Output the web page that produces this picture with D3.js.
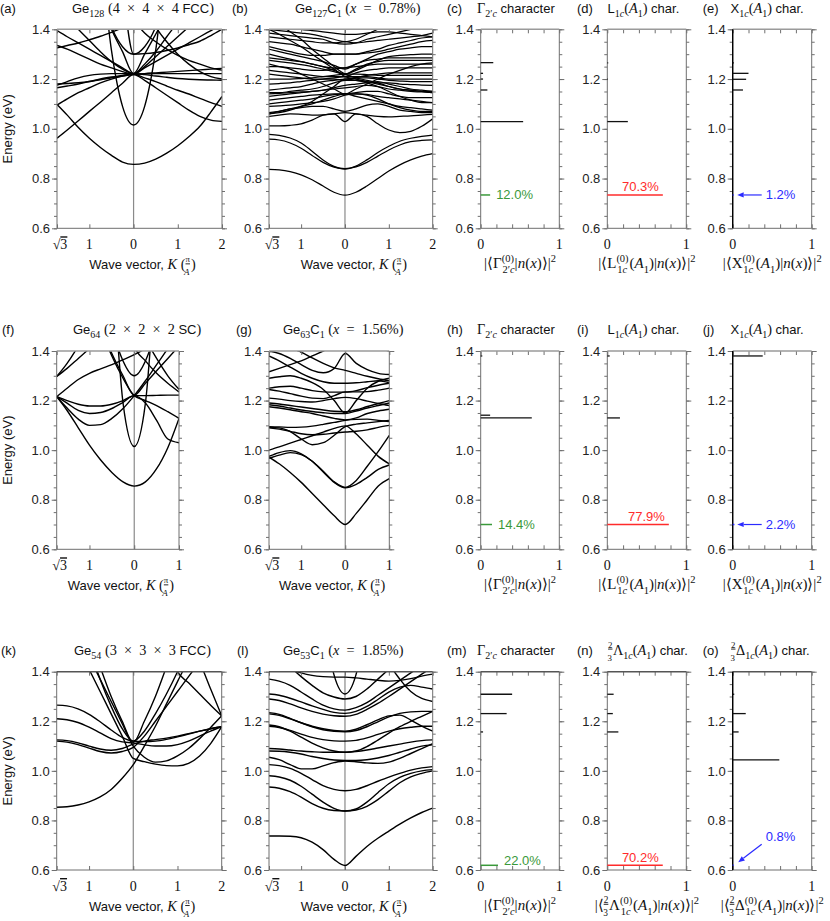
<!DOCTYPE html>
<html><head><meta charset="utf-8">
<script src="https://cdn.jsdelivr.net/npm/d3@7"></script>
<style>body{margin:0;background:#fff}</style></head>
<body><svg id="c" width="830" height="921"></svg>
<script>
// ---------------- DATA ----------------
const S3 = Math.sqrt(3);
const K_FCC = [-S3,-1.5,-1.25,-1,-0.75,-0.5,-0.25,0,0.25,0.5,0.75,1,1.25,1.5,1.75,2];
const K_SC  = [-S3,-1.5,-1.25,-1,-0.75,-0.5,-0.25,0,0.25,0.5,0.75,1];
const KT_FCC = [-S3,-1,0,1,2];
const KT_SC  = [-S3,-1,0,1];
const KL_FCC = ['√3','1','0','1','2'];
const KL_SC  = ['√3','1','0','1'];
const E_MAJOR = [0.6,0.8,1.0,1.2,1.4];
const E_MINOR = d3.range(0,17).map(i => +(0.6 + i*0.05).toFixed(2));
const C_TICKS = [0,0.2,0.4,0.6,0.8,1];
const C_LABELS = [[0,'0'],[1,'1']];

// (a) Ge128 (4x4x4 FCC)
const BANDS_A = [
 [1.098,1.055,1.005,0.962,0.925,0.893,0.866,0.857,0.862,0.878,0.902,0.932,0.968,1.01,1.068,1.13],
 [0.962,0.995,1.032,1.07,1.107,1.145,1.183,1.218,1.195,1.165,1.135,1.105,1.075,1.05,1.035,1.03],
 [1.9,1.9,1.9,1.9,1.69,1.315,1.09,1.015,1.09,1.315,1.69,1.9,1.9,1.9,1.9,1.9],
 [1.095,1.12,1.145,1.165,1.185,1.2,1.212,1.22,1.205,1.19,1.172,1.155,1.14,1.122,1.105,1.09],
 [1.18,1.182,1.185,1.19,1.197,1.205,1.212,1.218,1.222,1.225,1.228,1.231,1.234,1.237,1.24,1.243],
 [1.165,1.172,1.18,1.19,1.2,1.208,1.215,1.22,1.221,1.222,1.222,1.222,1.222,1.222,1.222,1.222],
 [1.175,1.19,1.205,1.215,1.22,1.222,1.222,1.222,1.218,1.212,1.207,1.202,1.199,1.197,1.196,1.195],
 [1.335,1.32,1.30,1.28,1.26,1.245,1.23,1.22,1.245,1.27,1.295,1.32,1.345,1.37,1.395,1.42],
 [1.325,1.335,1.345,1.358,1.372,1.388,1.405,1.42,1.5,1.6,1.7,1.8,1.9,1.9,1.9,1.9],
 [1.5,1.45,1.40,1.355,1.31,1.27,1.24,1.222,1.26,1.31,1.37,1.43,1.5,1.6,1.7,1.8],
 [1.9,1.9,1.9,1.75,1.55,1.41,1.33,1.30,1.33,1.41,1.55,1.75,1.9,1.9,1.9,1.9],
 [1.9,1.9,1.9,1.9,1.8,1.65,1.52,1.44,1.385,1.35,1.32,1.295,1.275,1.26,1.245,1.236],
 [1.9,1.9,1.9,1.9,1.9,1.8,1.7,1.6,1.5,1.41,1.35,1.3,1.26,1.23,1.21,1.2],
 [1.9,1.9,1.9,1.9,1.9,1.8,1.55,1.30,1.302,1.307,1.315,1.325,1.338,1.352,1.375,1.40],
 [1.395,1.37,1.345,1.32,1.295,1.27,1.245,1.222,1.25,1.29,1.33,1.37,1.41,1.45,1.5,1.55],
 [1.9,1.9,1.8,1.65,1.52,1.40,1.31,1.222,1.3,1.38,1.46,1.55,1.65,1.75,1.85,1.9]
];
// (b) Ge127C1
const BANDS_B = [
 [0.837,0.835,0.828,0.815,0.795,0.77,0.745,0.733,0.745,0.77,0.80,0.83,0.855,0.875,0.89,0.90],
 [0.958,0.955,0.943,0.922,0.893,0.865,0.846,0.84,0.847,0.865,0.89,0.915,0.935,0.948,0.953,0.955],
 [0.978,0.974,0.963,0.943,0.91,0.875,0.849,0.838,0.85,0.875,0.905,0.93,0.95,0.962,0.97,0.975],
 [1.012,1.012,1.014,1.02,1.035,1.055,1.06,1.029,1.06,1.05,1.02,0.995,0.985,0.99,1.01,1.04],
 [1.05,1.055,1.06,1.058,1.055,1.056,1.06,1.065,1.06,1.055,1.05,1.048,1.05,1.052,1.055,1.058],
 [1.065,1.07,1.08,1.085,1.09,1.09,1.08,1.07,1.08,1.095,1.1,1.09,1.075,1.07,1.065,1.065],
 [1.09,1.092,1.095,1.10,1.105,1.11,1.12,1.135,1.14,1.135,1.12,1.10,1.085,1.075,1.07,1.07],
 [1.10,1.105,1.11,1.115,1.12,1.13,1.137,1.14,1.14,1.138,1.13,1.125,1.12,1.115,1.11,1.105],
 [1.115,1.12,1.125,1.13,1.135,1.138,1.14,1.14,1.145,1.15,1.15,1.14,1.13,1.125,1.125,1.125],
 [1.13,1.135,1.14,1.145,1.15,1.155,1.16,1.165,1.17,1.175,1.17,1.16,1.155,1.15,1.148,1.145],
 [1.14,1.142,1.145,1.148,1.15,1.155,1.165,1.175,1.18,1.185,1.19,1.18,1.17,1.16,1.155,1.15],
 [1.145,1.145,1.15,1.155,1.16,1.17,1.185,1.195,1.195,1.19,1.185,1.185,1.18,1.178,1.176,1.175],
 [1.155,1.16,1.165,1.17,1.18,1.19,1.195,1.2,1.205,1.205,1.2,1.195,1.192,1.19,1.19,1.19],
 [1.18,1.182,1.185,1.19,1.195,1.2,1.205,1.21,1.21,1.21,1.205,1.2,1.2,1.2,1.2,1.2],
 [1.2,1.2,1.2,1.202,1.205,1.21,1.215,1.22,1.22,1.218,1.215,1.215,1.215,1.215,1.215,1.215],
 [1.22,1.215,1.21,1.205,1.2,1.2,1.2,1.195,1.205,1.215,1.22,1.225,1.225,1.225,1.225,1.225],
 [1.235,1.23,1.225,1.22,1.215,1.21,1.21,1.21,1.225,1.235,1.24,1.245,1.245,1.245,1.245,1.245],
 [1.25,1.25,1.245,1.24,1.235,1.235,1.24,1.245,1.25,1.255,1.26,1.26,1.26,1.26,1.26,1.26],
 [1.275,1.27,1.265,1.258,1.25,1.24,1.23,1.22,1.24,1.26,1.27,1.275,1.275,1.275,1.275,1.275],
 [1.285,1.28,1.275,1.27,1.26,1.25,1.245,1.245,1.26,1.275,1.28,1.285,1.285,1.285,1.285,1.285],
 [1.30,1.29,1.28,1.27,1.26,1.25,1.235,1.22,1.235,1.255,1.275,1.29,1.295,1.298,1.30,1.30],
 [1.32,1.31,1.3,1.29,1.28,1.27,1.255,1.24,1.26,1.28,1.3,1.31,1.32,1.325,1.33,1.33],
 [1.33,1.32,1.31,1.30,1.295,1.295,1.30,1.30,1.30,1.305,1.31,1.32,1.33,1.34,1.35,1.355],
 [1.35,1.345,1.34,1.33,1.32,1.31,1.30,1.30,1.30,1.31,1.32,1.335,1.345,1.355,1.365,1.37],
 [1.37,1.365,1.36,1.355,1.35,1.345,1.345,1.35,1.345,1.35,1.355,1.36,1.365,1.37,1.375,1.385],
 [1.385,1.38,1.375,1.37,1.365,1.36,1.345,1.34,1.345,1.36,1.37,1.38,1.39,1.40,1.41,1.42],
 [1.40,1.395,1.39,1.385,1.38,1.37,1.36,1.35,1.36,1.38,1.40,1.42,1.44,1.45,1.45,1.45],
 [1.40,1.38,1.355,1.33,1.30,1.27,1.24,1.21,1.2,1.19,1.18,1.17,1.16,1.155,1.15,1.15],
 [1.45,1.42,1.39,1.36,1.32,1.285,1.25,1.22,1.205,1.195,1.185,1.17,1.16,1.155,1.15,1.145],
 [1.06,1.07,1.08,1.09,1.10,1.115,1.13,1.14,1.13,1.12,1.11,1.1,1.09,1.085,1.08,1.075],
 [1.06,1.065,1.075,1.09,1.11,1.14,1.17,1.2,1.195,1.185,1.17,1.15,1.13,1.115,1.105,1.105],
 [1.26,1.25,1.24,1.22,1.2,1.18,1.16,1.14,1.16,1.18,1.2,1.22,1.235,1.25,1.26,1.265],
 [1.42,1.42,1.41,1.40,1.395,1.39,1.385,1.38,1.38,1.385,1.39,1.39,1.385,1.38,1.375,1.37]
];
// (f) Ge64 (2x2x2 SC)
const BANDS_F = [
 [1.216,1.16,1.09,1.02,0.96,0.91,0.872,0.855,0.872,0.925,1.01,1.128],
 [1.9,1.9,1.9,1.9,1.9,1.72,1.19,1.015,1.19,1.72,1.9,1.9],
 [1.216,1.2,1.185,1.178,1.178,1.185,1.2,1.22,1.22,1.221,1.222,1.222],
 [1.216,1.19,1.16,1.148,1.152,1.168,1.193,1.22,1.19,1.12,1.045,1.03],
 [1.216,1.17,1.125,1.1,1.103,1.128,1.168,1.22,1.28,1.345,1.41,1.48],
 [1.297,1.35,1.42,1.5,1.6,1.7,1.8,1.9,1.9,1.9,1.9,1.9],
 [1.297,1.33,1.37,1.41,1.45,1.5,1.55,1.6,1.65,1.7,1.75,1.8],
 [1.216,1.25,1.285,1.31,1.328,1.345,1.365,1.385,1.41,1.44,1.47,1.5],
 [1.9,1.9,1.9,1.62,1.49,1.38,1.29,1.22,1.2,1.18,1.155,1.128],
 [1.9,1.9,1.76,1.62,1.5,1.39,1.3,1.222,1.27,1.32,1.37,1.42],
 [1.9,1.9,1.9,1.9,1.75,1.5,1.36,1.30,1.36,1.5,1.75,1.9],
 [1.9,1.9,1.9,1.9,1.9,1.9,1.9,1.42,1.36,1.31,1.27,1.235],
 [1.9,1.9,1.9,1.9,1.9,1.9,1.7,1.55,1.45,1.37,1.3,1.245]
];
// (g) Ge63C1
const BANDS_G = [
 [0.972,0.945,0.91,0.87,0.825,0.78,0.735,0.70,0.745,0.80,0.855,0.885],
 [0.975,0.99,0.998,0.985,0.955,0.912,0.87,0.848,0.862,0.89,0.922,0.94],
 [0.967,0.98,0.99,0.982,0.955,0.915,0.872,0.85,0.878,0.935,0.995,1.06],
 [1.0,1.013,1.028,1.043,1.058,1.073,1.088,1.098,1.065,1.02,0.975,0.945],
 [1.09,1.085,1.076,1.066,1.062,1.064,1.069,1.073,1.076,1.082,1.092,1.10],
 [1.092,1.09,1.075,1.045,1.022,1.03,1.06,1.095,1.105,1.11,1.115,1.12],
 [1.095,1.094,1.092,1.093,1.097,1.104,1.112,1.12,1.124,1.125,1.12,1.115],
 [1.175,1.17,1.163,1.155,1.148,1.138,1.128,1.122,1.13,1.148,1.158,1.165],
 [1.183,1.178,1.17,1.162,1.156,1.151,1.148,1.148,1.158,1.17,1.18,1.19],
 [1.19,1.186,1.18,1.174,1.168,1.162,1.157,1.155,1.163,1.176,1.188,1.2],
 [1.21,1.206,1.2,1.196,1.194,1.2,1.208,1.213,1.208,1.198,1.188,1.18],
 [1.245,1.238,1.228,1.218,1.21,1.208,1.22,1.235,1.235,1.236,1.242,1.25],
 [1.25,1.256,1.258,1.25,1.24,1.235,1.234,1.234,1.24,1.252,1.262,1.27],
 [1.29,1.296,1.3,1.29,1.272,1.245,1.2,1.15,1.2,1.25,1.278,1.29],
 [1.4,1.39,1.37,1.345,1.322,1.312,1.33,1.39,1.35,1.325,1.31,1.305],
 [1.397,1.405,1.41,1.395,1.372,1.35,1.332,1.322,1.31,1.298,1.288,1.28],
 [1.38,1.36,1.335,1.31,1.29,1.276,1.27,1.27,1.272,1.276,1.28,1.272],
 [1.316,1.33,1.345,1.36,1.38,1.4,1.42,1.44,1.43,1.42,1.41,1.4]
];
// (k) Ge54 (3x3x3 FCC)
const BANDS_K = [
 [0.853,0.855,0.862,0.875,0.895,0.925,0.97,1.025,1.1,1.18,1.27,1.36,1.45,1.55,1.65,1.75],
 [1.75,1.6,1.5,1.41,1.32,1.23,1.14,1.05,1.037,1.027,1.021,1.02,1.03,1.06,1.11,1.178],
 [1.8,1.65,1.55,1.46,1.37,1.28,1.19,1.10,1.055,1.035,1.04,1.06,1.09,1.13,1.175,1.222],
 [1.265,1.262,1.25,1.228,1.198,1.165,1.135,1.12,1.118,1.12,1.127,1.137,1.148,1.16,1.17,1.178],
 [1.21,1.206,1.195,1.176,1.153,1.13,1.117,1.113,1.105,1.1,1.1,1.106,1.12,1.14,1.16,1.178],
 [1.125,1.122,1.113,1.1,1.088,1.083,1.09,1.108,1.12,1.126,1.132,1.14,1.15,1.16,1.17,1.178],
 [1.12,1.116,1.106,1.092,1.078,1.072,1.078,1.095,1.14,1.2,1.26,1.32,1.38,1.44,1.5,1.56],
 [1.9,1.8,1.65,1.5,1.37,1.26,1.17,1.12,1.16,1.23,1.31,1.4,1.5,1.6,1.7,1.8],
 [1.9,1.85,1.7,1.55,1.42,1.3,1.2,1.115,1.2,1.3,1.42,1.55,1.7,1.85,1.9,1.9],
 [1.9,1.9,1.9,1.9,1.9,1.9,1.9,1.9,1.8,1.65,1.52,1.40,1.355,1.31,1.265,1.222],
 [1.9,1.9,1.9,1.9,1.9,1.9,1.9,1.9,1.9,1.9,1.9,1.62,1.53,1.44,1.33,1.222]
];
// (l) Ge53C1
const BANDS_L = [
 [0.737,0.737,0.736,0.73,0.712,0.682,0.643,0.618,0.655,0.695,0.728,0.757,0.785,0.81,0.832,0.85],
 [0.935,0.93,0.916,0.894,0.868,0.849,0.84,0.838,0.842,0.857,0.884,0.918,0.952,0.976,0.99,1.0],
 [0.98,0.975,0.962,0.938,0.906,0.874,0.849,0.838,0.846,0.874,0.912,0.948,0.974,0.99,1.0,1.005],
 [1.025,1.021,1.01,0.99,0.965,0.94,0.925,0.92,0.925,0.94,0.958,0.975,0.99,1.003,1.012,1.017],
 [1.055,1.045,1.025,1.008,1.008,1.02,1.033,1.04,1.037,1.032,1.03,1.035,1.05,1.07,1.09,1.11],
 [1.08,1.079,1.075,1.068,1.058,1.05,1.044,1.042,1.042,1.045,1.052,1.062,1.075,1.088,1.1,1.105],
 [1.09,1.088,1.084,1.08,1.077,1.075,1.075,1.075,1.078,1.084,1.092,1.1,1.108,1.116,1.122,1.125],
 [1.185,1.178,1.16,1.136,1.112,1.093,1.08,1.075,1.08,1.098,1.124,1.152,1.178,1.2,1.22,1.24],
 [1.18,1.175,1.163,1.148,1.135,1.126,1.121,1.12,1.123,1.133,1.147,1.16,1.17,1.176,1.18,1.18],
 [1.235,1.228,1.212,1.194,1.178,1.166,1.16,1.158,1.163,1.178,1.198,1.218,1.232,1.238,1.24,1.24],
 [1.23,1.224,1.21,1.194,1.18,1.17,1.163,1.16,1.168,1.186,1.206,1.222,1.225,1.205,1.18,1.16],
 [1.29,1.284,1.27,1.254,1.24,1.229,1.222,1.22,1.228,1.248,1.272,1.3,1.33,1.36,1.39,1.42],
 [1.31,1.305,1.293,1.278,1.262,1.248,1.236,1.232,1.24,1.26,1.288,1.318,1.338,1.345,1.338,1.33],
 [1.9,1.9,1.9,1.9,1.9,1.62,1.387,1.31,1.387,1.62,1.9,1.9,1.9,1.9,1.9,1.9],
 [1.37,1.362,1.345,1.318,1.29,1.265,1.25,1.245,1.255,1.275,1.305,1.335,1.365,1.395,1.425,1.455],
 [1.5,1.46,1.42,1.38,1.345,1.315,1.298,1.29,1.3,1.33,1.37,1.41,1.45,1.49,1.5,1.5],
 [1.9,1.9,1.9,1.9,1.9,1.9,1.9,1.9,1.9,1.75,1.58,1.44,1.37,1.32,1.292,1.28],
 [1.45,1.43,1.41,1.395,1.385,1.38,1.378,1.378,1.375,1.37,1.365,1.362,1.365,1.372,1.382,1.39]
];

// character panels: [energy, weight]
const CHAR_C = [[1.266,0.16],[1.223,0.03],[1.20,0.03],[1.156,0.085],[1.029,0.54]];
const CHAR_D = [[1.265,0.012],[1.20,0.008],[1.029,0.26]];
const CHAR_E = [[1.265,0.015],[1.223,0.2],[1.199,0.17],[1.156,0.13]];
const CHAR_H = [[1.38,0.02],[1.141,0.12],[1.13,0.65]];
const CHAR_I = [[1.38,0.03],[1.13,0.16]];
const CHAR_J = [[1.38,0.38],[1.13,0.01]];
const CHAR_M = [[1.309,0.40],[1.231,0.33],[1.157,0.03],[1.044,0.01]];
const CHAR_N = [[1.309,0.08],[1.231,0.07],[1.157,0.14]];
const CHAR_O = [[1.309,0.02],[1.231,0.165],[1.157,0.075],[1.044,0.59]];
// lowest state: [energy, weight, label]
const LOW_C = [0.734,0.120,'12.0%'], LOW_D = [0.734,0.703,'70.3%'], LOW_E = [0.734,0.012,'1.2%'];
const LOW_H = [0.700,0.144,'14.4%'], LOW_I = [0.700,0.779,'77.9%'], LOW_J = [0.700,0.022,'2.2%'];
const LOW_M = [0.619,0.220,'22.0%'], LOW_N = [0.619,0.702,'70.2%'], LOW_O = [0.619,0.008,'0.8%'];

// ---------------- DRAWING ----------------
const SANS = "'Liberation Sans', Arial, sans-serif";
const SERIF = "'Liberation Serif', 'Times New Roman', serif";
const FS = 12.5;
const GREEN = '#3a993a', RED = '#ff2b2b', BLUE = '#2b2bff';
const G2 = '\u2005\u2005';   // math spacing around binary operators
const svg = d3.select('#c');
svg.append('rect').attr('width',830).attr('height',921).attr('fill','#fff');

function rich(parent, x, y, segs, opt={}) {
  const size = opt.size || FS;
  const mscale = opt.mscale || 1;
  const t = parent.append('text').attr('x', x).attr('y', y)
    .attr('text-anchor', opt.anchor || 'start').attr('font-size', size)
    .attr('fill', opt.fill || '#111');
  if (opt.rotate) t.attr('transform', `rotate(${opt.rotate},${x},${y})`);
  let cur = 0;
  segs.forEach(s => {
    const txt = s[0], f = s[1] || 's', pos = s[2] || '', dx = s[3] || 0;
    const base = f === 's' ? size : size * mscale;
    const off = pos === 'b' ? base*0.3 : pos === 'p' ? -base*0.4 : pos === 'B' ? base*0.42 : pos === 'P' ? -base*0.48 : 0;
    const ts = t.append('tspan').text(txt)
      .attr('font-family', f === 's' ? SANS : SERIF)
      .attr('font-style', f === 'i' ? 'italic' : 'normal')
      .attr('dy', off - cur)
      .attr('font-size', pos ? base * ((pos === 'B' || pos === 'P') ? 0.62 : 0.7) : base);
    if (dx) ts.attr('dx', dx);
    if (s[4]) ts.attr('text-decoration', s[4]);
    cur = off;
  });
  return t;
}

const T_GAMMA = [['Γ','r'],['2′','r','b'],['c','i','b'],[' character','s']];
const T_L = [['L','s'],['1','r','b'],['c','i','b'],['(','r'],['A','i'],['1','r','b'],[')','r'],[' char.','s']];
const T_X = [['X','s'],['1','r','b'],['c','i','b'],['(','r'],['A','i'],['1','r','b'],[')','r'],[' char.','s']];
const T_LAM = [['2','r','P','', 'underline'],['3','r','B',-5],['Λ','r','',1],['1','r','b'],['c','i','b'],['(','r'],['A','i'],['1','r','b'],[')','r'],[' char.','s']];
const T_DEL = [['2','r','P','', 'underline'],['3','r','B',-5],['Δ','r','',1],['1','r','b'],['c','i','b'],['(','r'],['A','i'],['1','r','b'],[')','r'],[' char.','s']];
const X_GAMMA = [['|⟨Γ','r'],['(0)','r','p'],['2′','r','b',-11.5],['c','i','b'],['|','r'],['n','i'],['(','r'],['x','i'],[')⟩|','r'],['2','r','p']];
const X_L = [['|⟨L','r'],['(0)','r','p'],['1','r','b',-11.5],['c','i','b'],['(','r','',2.5],['A','i'],['1','r','b'],[')|','r'],['n','i'],['(','r'],['x','i'],[')⟩|','r'],['2','r','p']];
const X_X = [['|⟨X','r'],['(0)','r','p'],['1','r','b',-11.5],['c','i','b'],['(','r','',2.5],['A','i'],['1','r','b'],[')|','r'],['n','i'],['(','r'],['x','i'],[')⟩|','r'],['2','r','p']];
const X_LAM = [['|⟨','r'],['2','r','P','', 'underline'],['3','r','B',-5],['Λ','r','',1],['(0)','r','p'],['1','r','b',-11.5],['c','i','b'],['(','r','',2.5],['A','i'],['1','r','b'],[')|','r'],['n','i'],['(','r'],['x','i'],[')⟩|','r'],['2','r','p']];
const X_DEL = [['|⟨','r'],['2','r','P','', 'underline'],['3','r','B',-5],['Δ','r','',1],['(0)','r','p'],['1','r','b',-11.5],['c','i','b'],['(','r','',2.5],['A','i'],['1','r','b'],[')|','r'],['n','i'],['(','r'],['x','i'],[')⟩|','r'],['2','r','p']];
const X_WAVE = [['Wave vector, ','s'],['K','i'],[' (','r'],['π','r','P','','underline'],['A','i','B',-6],[')','r','',1.5]];

const ROWS = [
  {y0:29.3, y1:228.3, ty:12.5, top:'#9a9a9a'},
  {y0:351,  y1:549.3, ty:333.5, top:'#9a9a9a'},
  {y0:671.7,y1:870,   ty:654.5, top:'#555'}
];

const BAND_PANELS = [
 {id:'a', row:0, x0:57,   x1:222,   K:K_FCC, KT:KT_FCC, KL:KL_FCC, bands:BANDS_A, lx:0,   tx:72,
  title:[['Ge','s'],['128','r','b'],[' (4'+G2+'×'+G2+'4'+G2+'×'+G2+'4 ','r'],['FCC','s'],[')','r']], ylab:true},
 {id:'b', row:0, x0:269,  x1:432.7, K:K_FCC, KT:KT_FCC, KL:KL_FCC, bands:BANDS_B, lx:232, tx:295,
  title:[['Ge','s'],['127','r','b'],['C','s'],['1','r','b'],[' (','r'],['x','i'],[G2+'='+G2+'0.78%)','r']]},
 {id:'f', row:1, x0:56.7, x1:179,   K:K_SC,  KT:KT_SC,  KL:KL_SC,  bands:BANDS_F, lx:2,   tx:73,
  title:[['Ge','s'],['64','r','b'],[' (2'+G2+'×'+G2+'2'+G2+'×'+G2+'2 ','r'],['SC','s'],[')','r']], ylab:true},
 {id:'g', row:1, x0:269,  x1:389.3, K:K_SC,  KT:KT_SC,  KL:KL_SC,  bands:BANDS_G, lx:236, tx:283,
  title:[['Ge','s'],['63','r','b'],['C','s'],['1','r','b'],[' (','r'],['x','i'],[G2+'='+G2+'1.56%)','r']]},
 {id:'k', row:2, x0:56.7, x1:221.7, K:K_FCC, KT:KT_FCC, KL:KL_FCC, bands:BANDS_K, lx:1,   tx:74,
  title:[['Ge','s'],['54','r','b'],[' (3'+G2+'×'+G2+'3'+G2+'×'+G2+'3 ','r'],['FCC','s'],[')','r']], ylab:true},
 {id:'l', row:2, x0:269,  x1:432.7, K:K_FCC, KT:KT_FCC, KL:KL_FCC, bands:BANDS_L, lx:237, tx:283,
  title:[['Ge','s'],['53','r','b'],['C','s'],['1','r','b'],[' (','r'],['x','i'],[G2+'='+G2+'1.85%)','r']]}
];

const CHAR_PANELS = [
 {id:'c', row:0, col:0, data:CHAR_C, low:LOW_C, mode:'right', color:GREEN, title:T_GAMMA, xl:X_GAMMA},
 {id:'d', row:0, col:1, data:CHAR_D, low:LOW_D, mode:'above', color:RED,   title:T_L,     xl:X_L},
 {id:'e', row:0, col:2, data:CHAR_E, low:LOW_E, mode:'arrow', color:BLUE,  title:T_X,     xl:X_X},
 {id:'h', row:1, col:0, data:CHAR_H, low:LOW_H, mode:'right', color:GREEN, title:T_GAMMA, xl:X_GAMMA},
 {id:'i', row:1, col:1, data:CHAR_I, low:LOW_I, mode:'above', color:RED,   title:T_L,     xl:X_L},
 {id:'j', row:1, col:2, data:CHAR_J, low:LOW_J, mode:'arrow', color:BLUE,  title:T_X,     xl:X_X},
 {id:'m', row:2, col:0, data:CHAR_M, low:LOW_M, mode:'right', color:GREEN, title:T_GAMMA, xl:X_GAMMA},
 {id:'n', row:2, col:1, data:CHAR_N, low:LOW_N, mode:'above', color:RED,   title:T_LAM,   xl:X_LAM},
 {id:'o', row:2, col:2, data:CHAR_O, low:LOW_O, mode:'diag',  color:BLUE,  title:T_DEL,   xl:X_DEL}
];
const CHAR_COLS = [
 {x0:480.7, x1:559.3, lx:447,   tx:477},
 {x0:607.3, x1:686.3, lx:577,   tx:607.5},
 {x0:732.7, x1:811.7, lx:702.7, tx:730.5}
];

function styleAxis(g) {
  g.select('.domain').remove();
  g.selectAll('.tick line').attr('stroke', '#6f6f6f').attr('stroke-width', 1);
  g.selectAll('.tick text').attr('font-family', SANS).attr('font-size', 13).attr('fill', '#222');
}

function drawFrame(g, x0, x1, y0, y1, ys, xs, xTicks, topColor) {
  g.append('g').attr('transform', `translate(${x0},0)`)
    .call(d3.axisLeft(ys).tickValues(E_MINOR).tickSize(3).tickFormat('')).call(styleAxis);
  g.append('g').attr('transform', `translate(${x0},0)`)
    .call(d3.axisLeft(ys).tickValues(E_MAJOR).tickSize(5).tickPadding(2).tickFormat(d3.format('.1f'))).call(styleAxis);
  g.append('g').attr('transform', `translate(${x1},0)`)
    .call(d3.axisRight(ys).tickValues(E_MINOR).tickSize(3).tickFormat('')).call(styleAxis);
  g.append('g').attr('transform', `translate(${x1},0)`)
    .call(d3.axisRight(ys).tickValues(E_MAJOR).tickSize(5).tickFormat('')).call(styleAxis);
  g.append('g').attr('transform', `translate(0,${y1})`)
    .call(d3.axisBottom(xs).tickValues(xTicks).tickSize(-4).tickFormat('')).call(styleAxis);
  g.append('g').attr('transform', `translate(0,${y0})`)
    .call(d3.axisTop(xs).tickValues(xTicks).tickSize(-4).tickFormat('')).call(styleAxis);
  g.append('line').attr('x1', x0).attr('x2', x0).attr('y1', y0).attr('y2', y1).attr('stroke', '#6f6f6f');
  g.append('line').attr('x1', x1).attr('x2', x1).attr('y1', y0).attr('y2', y1).attr('stroke', '#6f6f6f');
  g.append('line').attr('x1', x0).attr('x2', x1).attr('y1', y1).attr('y2', y1).attr('stroke', '#6f6f6f');
  g.append('line').attr('x1', x0).attr('x2', x1).attr('y1', y0).attr('y2', y0).attr('stroke', topColor).attr('stroke-width', 1.4);
}

const defs = svg.append('defs');

BAND_PANELS.forEach(p => {
  const r = ROWS[p.row];
  const g = svg.append('g');
  const xs = d3.scaleLinear().domain([-S3, p.K[p.K.length - 1]]).range([p.x0, p.x1]);
  const ys = d3.scaleLinear().domain([0.6, 1.4]).range([r.y1, r.y0]);
  defs.append('clipPath').attr('id', 'clip' + p.id).append('rect')
    .attr('x', p.x0).attr('y', r.y0).attr('width', p.x1 - p.x0).attr('height', r.y1 - r.y0);
  const gp = g.append('g').attr('clip-path', `url(#clip${p.id})`);
  gp.append('line').attr('x1', xs(0)).attr('x2', xs(0)).attr('y1', r.y0).attr('y2', r.y1)
    .attr('stroke', '#8a8a8a').attr('stroke-width', 1.2);
  const line = d3.line().x((d, i) => xs(p.K[i])).y(d => ys(d)).curve(d3.curveMonotoneX);
  p.bands.forEach(b => {
    gp.append('path').attr('d', line(b)).attr('fill', 'none').attr('stroke', '#000')
      .attr('stroke-width', p.id === 'b' ? 1.25 : 1.4);
  });
  drawFrame(g, p.x0, p.x1, r.y0, r.y1, ys, xs, p.KT, r.top);
  p.KT.forEach((k, i) => {
    const segs = p.KL[i] === '√3' ? [['√','r'],['3','r','','', 'overline']] : [[p.KL[i],'r']];
    rich(g, xs(k) + (i === 0 ? 3 : 0), r.y1 + 21, segs, {anchor: 'middle', size: 14});
  });
  rich(g, (p.x0 + p.x1) / 2 + 3, r.y1 + 41, X_WAVE, {anchor: 'middle', size: 13, mscale: 1.1});
  if (p.ylab) rich(g, 12, (r.y0 + r.y1) / 2, [['Energy (eV)','s']], {anchor: 'middle', rotate: -90, size: 13});
  rich(g, p.lx, r.ty, [['(' + p.id + ')','s']], {size: 13});
  rich(g, p.tx, r.ty, p.title, {size: 13, mscale: 1.1});
});

CHAR_PANELS.forEach(p => {
  const r = ROWS[p.row], c = CHAR_COLS[p.col];
  const g = svg.append('g');
  const xs = d3.scaleLinear().domain([0, 1]).range([c.x0, c.x1]);
  const ys = d3.scaleLinear().domain([0.6, 1.4]).range([r.y1, r.y0]);
  drawFrame(g, c.x0, c.x1, r.y0, r.y1, ys, xs, C_TICKS, r.top);
  if (p.col === 2) g.append('line').attr('x1', c.x0).attr('x2', c.x0).attr('y1', r.y0).attr('y2', r.y1)
    .attr('stroke', '#000').attr('stroke-width', 1.4);
  g.selectAll('line.bar').data(p.data).join('line').attr('class', 'bar')
    .attr('x1', xs(0)).attr('x2', d => xs(d[1])).attr('y1', d => ys(d[0])).attr('y2', d => ys(d[0]))
    .attr('stroke', '#111').attr('stroke-width', 1.3);
  const [lE, lV, lT] = p.low;
  const yl = ys(lE);
  g.append('line').attr('x1', xs(0)).attr('x2', Math.max(xs(lV), xs(0) + 1)).attr('y1', yl).attr('y2', yl)
    .attr('stroke', p.color).attr('stroke-width', 1.5);
  if (p.mode === 'right') {
    rich(g, xs(lV) + 6, yl + 4.5 - (lE < 0.65 ? 5 : 0), [[lT,'s']], {fill: p.color, size: 13});
  } else if (p.mode === 'above') {
    rich(g, xs(lV) - 4, yl - 3.5, [[lT,'s']], {fill: p.color, anchor: 'end', size: 13});
  } else {
    const diag = p.mode === 'diag';
    const ax0 = xs(0) + 29, ay0 = diag ? yl - 21 : yl;
    const ax1 = xs(0) + (diag ? 5.5 : 4.5), ay1 = diag ? yl - 3 : yl;
    const ang = Math.atan2(ay1 - ay0, ax1 - ax0), hl = 6.5, hw = 2.6;
    const bx = ax1 - hl * Math.cos(ang), by = ay1 - hl * Math.sin(ang);
    g.append('line').attr('x1', ax0).attr('y1', ay0).attr('x2', bx).attr('y2', by)
      .attr('stroke', p.color).attr('stroke-width', 1.2);
    g.append('path').attr('fill', p.color)
      .attr('d', `M${ax1},${ay1}L${bx + hw*Math.sin(ang)},${by - hw*Math.cos(ang)}L${bx - hw*Math.sin(ang)},${by + hw*Math.cos(ang)}Z`);
    rich(g, xs(0) + 33, diag ? yl - 24 : yl + 4.5, [[lT,'s']], {fill: p.color, size: 13});
  }
  C_LABELS.forEach(([v, t]) => rich(g, xs(v), r.y1 + 21, [[t,'r']], {anchor: 'middle', size: 14}));
  rich(g, (c.x0 + c.x1) / 2, r.y1 + 40, p.xl, {anchor: 'middle', size: 15});
  rich(g, c.lx, r.ty, [['(' + p.id + ')','s']], {size: 13});
  rich(g, c.tx, r.ty, p.title, {size: 13, mscale: 1.1});
});
</script>
</body></html>
